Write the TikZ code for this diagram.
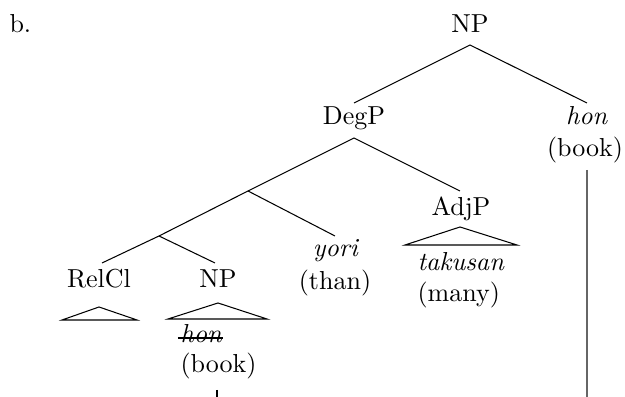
\documentclass[tikz,border=0pt]{standalone}
\begin{document}
\begin{tikzpicture}[x=0.3846pt,y=-0.3846pt,
  every node/.style={inner sep=0pt},
  lbl/.style={anchor=base},
  lblw/.style={anchor=base west},
  branch/.style={line width=0.4pt},
  strike/.style={line width=0.9pt},
  trace/.style={line width=0.4pt},
  longtrace/.style={line width=0.4pt, draw=black!60}]
\useasboundingbox (0,0) rectangle (625,397);
% labels
\node[lblw] (ex) at (9,33) {b.};
\node[lbl] (np) at (470,33) {NP};
\node[lbl] (degp) at (354,125) {DegP};
\node[lbl] (honR) at (587,125) {\textit{hon}};
\node[lbl] (bookR) at (585,157) {(book)};
\node[lbl] (adjp) at (461,216) {AdjP};
\node[lbl] (yori) at (336,257) {\textit{yori}};
\node[lbl] (than) at (335,290) {(than)};
\node[lbl] (relcl) at (99,288) {RelCl};
\node[lbl] (np2) at (218,288) {NP};
\node[lblw] (takusan) at (417,271) {\textit{takusan}};
\node[lblw] (many) at (417,302) {(many)};
\node[lblw] (honS) at (180,343) {\textit{hon}};
\node[lblw] (bookL) at (180,373) {(book)};
% strike-through of the moved hon
\coordinate (stL) at (178,338);
\coordinate (stR) at (223,338);
\draw[strike] (stL) -- (stR);
% branch points
\coordinate (npA) at (470,45);
\coordinate (degpT) at (354,103);
\coordinate (honT) at (587,103);
\coordinate (degpA) at (354,138);
\coordinate (j1) at (248,191);
\coordinate (adjpT) at (460,191);
\coordinate (j2) at (159,236);
\coordinate (yoriT) at (335,236);
\coordinate (relclT) at (102,263);
\coordinate (np2T) at (215,263);
% triangles
\coordinate (rcA) at (99,307);
\coordinate (rcL) at (62,320);
\coordinate (rcR) at (137,320);
\coordinate (npA2) at (218,303);
\coordinate (npL) at (168,319);
\coordinate (npR) at (267,319);
\coordinate (ajA) at (460,227);
\coordinate (ajL) at (405,245);
\coordinate (ajR) at (517,245);
% traces
\coordinate (tickT) at (217,390);
\coordinate (tickB) at (217,398);
\coordinate (lineT) at (587,170);
\coordinate (lineB) at (587,398);
% edges
\draw[branch] (degpT) -- (npA) -- (honT);
\draw[branch] (j1) -- (degpA) -- (adjpT);
\draw[branch] (j2) -- (j1) -- (yoriT);
\draw[branch] (relclT) -- (j2) -- (np2T);
\draw[branch] (rcL) -- (rcA) -- (rcR) -- cycle;
\draw[branch] (npL) -- (npA2) -- (npR) -- cycle;
\draw[branch] (ajL) -- (ajA) -- (ajR) -- cycle;
\draw[trace] (tickT) -- (tickB);
\draw[longtrace] (lineT) -- (lineB);
\end{tikzpicture}
\end{document}
